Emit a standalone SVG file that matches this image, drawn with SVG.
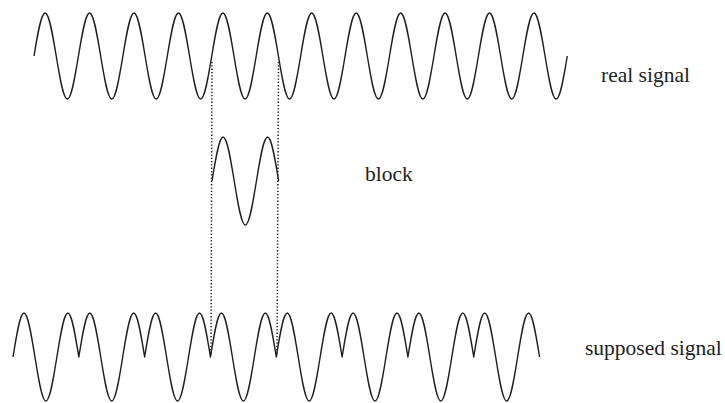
<svg xmlns="http://www.w3.org/2000/svg" width="725" height="403" viewBox="0 0 725 403">
<style>
.wave{fill:none;stroke:#1e1e1e;stroke-width:1.4;stroke-linejoin:round}
.dot{fill:none;stroke:#1e1e1e;stroke-width:1.5;stroke-dasharray:1.3 2}
.lbl{font-size:21.5px;fill:#1e1e1e}
</style>
<rect width="725" height="403" fill="#ffffff"/>
<g id="real-signal">
<path class="wave" d="M34,56
c3.62,-22.03 7.09,-43 11.11,-43 c4.02,0 7.49,20.97 11.11,43 c3.62,22.03 7.09,43 11.11,43 c4.02,0 7.49,-20.97 11.11,-43
c3.62,-22.03 7.09,-43 11.11,-43 c4.02,0 7.49,20.97 11.11,43 c3.62,22.03 7.09,43 11.11,43 c4.02,0 7.49,-20.97 11.11,-43
c3.62,-22.03 7.09,-43 11.11,-43 c4.02,0 7.49,20.97 11.11,43 c3.62,22.03 7.09,43 11.11,43 c4.02,0 7.49,-20.97 11.11,-43
c3.62,-22.03 7.09,-43 11.11,-43 c4.02,0 7.49,20.97 11.11,43 c3.62,22.03 7.09,43 11.11,43 c4.02,0 7.49,-20.97 11.11,-43
c3.62,-22.03 7.09,-43 11.11,-43 c4.02,0 7.49,20.97 11.11,43 c3.62,22.03 7.09,43 11.11,43 c4.02,0 7.49,-20.97 11.11,-43
c3.62,-22.03 7.09,-43 11.11,-43 c4.02,0 7.49,20.97 11.11,43 c3.62,22.03 7.09,43 11.11,43 c4.02,0 7.49,-20.97 11.11,-43
c3.62,-22.03 7.09,-43 11.11,-43 c4.02,0 7.49,20.97 11.11,43 c3.62,22.03 7.09,43 11.11,43 c4.02,0 7.49,-20.97 11.11,-43
c3.62,-22.03 7.09,-43 11.11,-43 c4.02,0 7.49,20.97 11.11,43 c3.62,22.03 7.09,43 11.11,43 c4.02,0 7.49,-20.97 11.11,-43
c3.62,-22.03 7.09,-43 11.11,-43 c4.02,0 7.49,20.97 11.11,43 c3.62,22.03 7.09,43 11.11,43 c4.02,0 7.49,-20.97 11.11,-43
c3.62,-22.03 7.09,-43 11.11,-43 c4.02,0 7.49,20.97 11.11,43 c3.62,22.03 7.09,43 11.11,43 c4.02,0 7.49,-20.97 11.11,-43
c3.62,-22.03 7.09,-43 11.11,-43 c4.02,0 7.49,20.97 11.11,43 c3.62,22.03 7.09,43 11.11,43 c4.02,0 7.49,-20.97 11.11,-43
c3.62,-22.03 7.09,-43 11.11,-43 c4.02,0 7.49,20.97 11.11,43 c3.62,22.03 7.09,43 11.11,43 c4.02,0 7.49,-20.97 11.11,-43"/>
<text class="lbl" font-family="'Liberation Serif', 'Times New Roman', serif" x="601" y="81.5">real signal</text>
</g>
<g id="block">
<path class="wave" d="M212,181
c3.62,-22.54 7.09,-44 11.11,-44 c4.02,0 7.49,21.46 11.11,44 c3.62,22.54 7.09,44 11.11,44 c4.02,0 7.49,-21.46 11.11,-44
c3.62,-22.54 7.09,-44 11.11,-44 c4.02,0 7.49,21.46 11.11,44"/>
<text class="lbl" font-family="'Liberation Serif', 'Times New Roman', serif" x="365" y="180.5">block</text>
</g>
<g id="supposed-signal">
<path class="wave" d="M13,357
c3.58,-22.54 7,-44 10.97,-44 c3.97,0 7.39,21.46 10.97,44 c3.58,22.54 7,44 10.97,44 c3.97,0 7.39,-21.46 10.97,-44 c3.58,-22.54 7,-44 10.97,-44 c3.97,0 7.39,21.46 10.97,44
c3.58,-22.54 7,-44 10.97,-44 c3.97,0 7.39,21.46 10.97,44 c3.58,22.54 7,44 10.97,44 c3.97,0 7.39,-21.46 10.97,-44 c3.58,-22.54 7,-44 10.97,-44 c3.97,0 7.39,21.46 10.97,44
c3.58,-22.54 7,-44 10.97,-44 c3.97,0 7.39,21.46 10.97,44 c3.58,22.54 7,44 10.97,44 c3.97,0 7.39,-21.46 10.97,-44 c3.58,-22.54 7,-44 10.97,-44 c3.97,0 7.39,21.46 10.97,44
c3.58,-22.54 7,-44 10.97,-44 c3.97,0 7.39,21.46 10.97,44 c3.58,22.54 7,44 10.97,44 c3.97,0 7.39,-21.46 10.97,-44 c3.58,-22.54 7,-44 10.97,-44 c3.97,0 7.39,21.46 10.97,44
c3.58,-22.54 7,-44 10.97,-44 c3.97,0 7.39,21.46 10.97,44 c3.58,22.54 7,44 10.97,44 c3.97,0 7.39,-21.46 10.97,-44 c3.58,-22.54 7,-44 10.97,-44 c3.97,0 7.39,21.46 10.97,44
c3.58,-22.54 7,-44 10.97,-44 c3.97,0 7.39,21.46 10.97,44 c3.58,22.54 7,44 10.97,44 c3.97,0 7.39,-21.46 10.97,-44 c3.58,-22.54 7,-44 10.97,-44 c3.97,0 7.39,21.46 10.97,44
c3.58,-22.54 7,-44 10.97,-44 c3.97,0 7.39,21.46 10.97,44 c3.58,22.54 7,44 10.97,44 c3.97,0 7.39,-21.46 10.97,-44 c3.58,-22.54 7,-44 10.97,-44 c3.97,0 7.39,21.46 10.97,44
c3.58,-22.54 7,-44 10.97,-44 c3.97,0 7.39,21.46 10.97,44 c3.58,22.54 7,44 10.97,44 c3.97,0 7.39,-21.46 10.97,-44 c3.58,-22.54 7,-44 10.97,-44 c3.97,0 7.39,21.46 10.97,44"/>
<text class="lbl" font-family="'Liberation Serif', 'Times New Roman', serif" x="585" y="355">supposed signal</text>
</g>
<g id="connectors">
<path class="dot" d="M212,62 L211,356"/>
<path class="dot" d="M278.5,62 L277,356"/>
</g>
</svg>
